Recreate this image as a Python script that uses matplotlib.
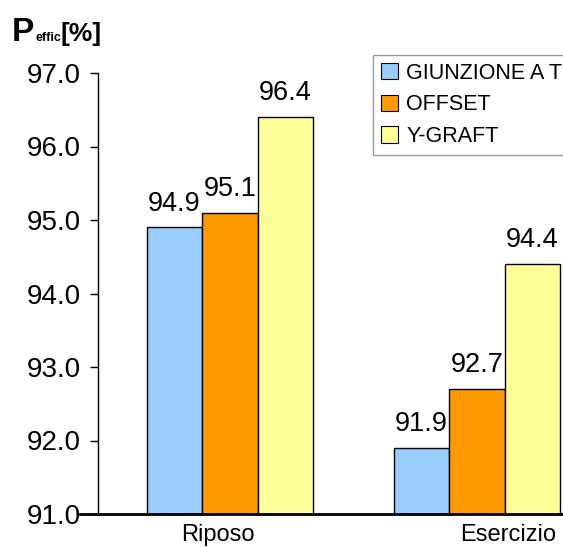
import matplotlib
matplotlib.use("Agg")
import matplotlib.pyplot as plt
import matplotlib.transforms as mtransforms
import numpy as np
from matplotlib.lines import Line2D

plt.rcParams['font.family'] = ['Liberation Sans', 'DejaVu Sans']

categories = ["Riposo", "Esercizio"]
series_names = ["GIUNZIONE A T", "OFFSET", "Y-GRAFT"]
giunzione = [94.9, 91.9]
offset = [95.1, 92.7]
ygraft = [96.4, 94.4]
y_ticks = [91.0, 92.0, 93.0, 94.0, 95.0, 96.0, 97.0]

colors = ["#99CCFF", "#FF9900", "#FFFF99"]

W, H = 563, 547
DPI = 100
fig = plt.figure(figsize=(W / DPI, H / DPI), dpi=DPI)

left_px, right_px, top_px, bottom_px = 98, 563, 73, 514
ax = fig.add_axes([left_px / W, 1 - bottom_px / H,
                   (right_px - left_px) / W, (bottom_px - top_px) / H])

unit = 247.0
x0 = -132.0 / unit
ax.set_xlim(x0, x0 + (right_px - left_px) / unit)
ax.set_ylim(91.0, 97.0)

x = np.arange(len(categories))
bw = 55.5 / unit
for i, (vals, col, name) in enumerate(zip([giunzione, offset, ygraft], colors, series_names)):
    pos = x + (i - 1) * bw
    ax.bar(pos, np.array(vals) - 91.0, bottom=91.0, width=bw, color=col,
           edgecolor="black", linewidth=1.0, label=name, zorder=3)
    for px, v in zip(pos, vals):
        ax.annotate(f"{v:.1f}", (px, v), xytext=(0, 12), textcoords="offset points",
                    ha="center", va="baseline", fontsize=19.5, color="black", zorder=4)

ax.set_yticks(y_ticks)
ax.set_yticklabels([f"{t:.1f}" for t in y_ticks], fontsize=20)
ax.tick_params(axis="y", direction="out", length=6, width=1, pad=6.5, colors="black")
ax.set_xticks(x)
ax.set_xticklabels(categories, fontsize=17)
ax.tick_params(axis="x", length=0, pad=7)

# category labels sit slightly off the group centres
label_shift_px = [-12, 31]
for lab, dx in zip(ax.get_xticklabels(), label_shift_px):
    lab.set_transform(lab.get_transform() +
                      mtransforms.ScaledTranslation(dx / DPI, 0, fig.dpi_scale_trans))

for s in ["top", "right"]:
    ax.spines[s].set_visible(False)
ax.spines["left"].set_linewidth(1.0)
ax.spines["bottom"].set_visible(False)

# category axis line, extending left across the lowest tick label
fig.add_artist(Line2D([80 / W, 1.0], [1 - bottom_px / H, 1 - bottom_px / H],
                      color="black", linewidth=2.0, zorder=5))

# axis title with subscript-like small text
base_y = 1 - 41 / H
fig.text(12 / W, base_y, "P", fontsize=24, fontweight="bold", va="baseline")
fig.text(35 / W, base_y, "effic", fontsize=9, fontweight="bold", va="baseline")
fig.text(61 / W, base_y, "[%]", fontsize=19, fontweight="bold", va="baseline")

leg = fig.legend(loc="upper left", bbox_to_anchor=(373 / W, 1 - 55 / H),
                 fontsize=15.5, frameon=True, fancybox=False, handlelength=0.8,
                 handleheight=0.8, handletextpad=0.4, borderpad=0.35,
                 labelspacing=0.5, borderaxespad=0)
leg.get_frame().set_edgecolor("#808080")
leg.get_frame().set_linewidth(1.0)
for h in leg.legend_handles:
    h.set_edgecolor("black")
    h.set_linewidth(0.8)

fig.savefig("out.png", dpi=DPI)
